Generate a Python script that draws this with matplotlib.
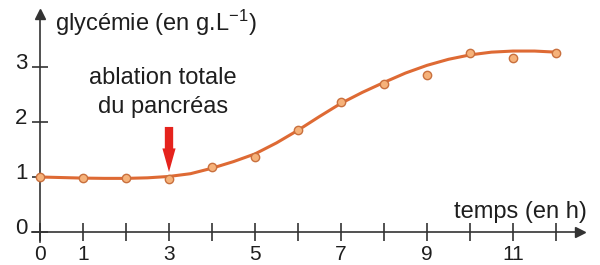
import numpy as np
import matplotlib
matplotlib.use("Agg")
import matplotlib.pyplot as plt
from matplotlib.transforms import ScaledTranslation

plt.rcParams["font.family"] = ["Liberation Sans", "DejaVu Sans"]
plt.rcParams["mathtext.fontset"] = "custom"
plt.rcParams["mathtext.rm"] = "Liberation Sans"
plt.rcParams["mathtext.default"] = "regular"

# measured points (hours, g/L)
hours = [0, 1, 2, 3, 4, 5, 6, 7, 8, 9, 10, 11, 12]
glycemia = [1.00, 0.98, 0.98, 0.96, 1.19, 1.36, 1.85, 2.36, 2.69, 2.85, 3.25, 3.16, 3.26]

# fitted curve every half hour
curve_t = [0, 0.5, 1, 1.5, 2, 2.5, 3, 3.5, 4, 4.5, 5, 5.5, 6, 6.5, 7, 7.5, 8,
           8.5, 9, 9.5, 10, 10.5, 11, 11.5, 12]
curve_g = [1.00, 0.99, 0.98, 0.975, 0.975, 0.985, 1.01, 1.06, 1.16, 1.28, 1.42,
           1.62, 1.85, 2.10, 2.34, 2.54, 2.72, 2.89, 3.03, 3.14, 3.22, 3.27,
           3.29, 3.29, 3.27]

xticks = list(range(13))
xlabels = ["0", "1", "", "3", "", "5", "", "7", "", "9", "", "11", ""]
yticks = [0, 1, 2, 3]

ablation_time = 3

axis_col = "#333333"
text_col = "#1e1e1e"

fig = plt.figure(figsize=(6, 2.65), dpi=100)
ax = fig.add_axes([32 / 600, 1 - 242 / 265, (580 - 32) / 600, (242 - 14) / 265])
ax.set_xlim((32 - 40) / 43, (580 - 40) / 43)
ax.set_ylim((232 - 242) / 55, (232 - 14) / 55)

for s in ["top", "right"]:
    ax.spines[s].set_visible(False)
ax.spines["left"].set_position(("data", 0))
ax.spines["bottom"].set_position(("data", 0))
for s in ["left", "bottom"]:
    ax.spines[s].set_color(axis_col)
    ax.spines[s].set_linewidth(1.2)

ax.plot(1, 0, ">", color=axis_col, markersize=7, transform=ax.get_yaxis_transform(), clip_on=False)
ax.plot(0, 1, "^", color=axis_col, markersize=7, transform=ax.get_xaxis_transform(), clip_on=False)

ax.set_xticks(xticks)
ax.set_xticklabels(xlabels)
ax.set_yticks(yticks)
ax.tick_params(axis="x", direction="inout", length=13, width=1.2, color=axis_col,
               labelsize=15, labelcolor=text_col, pad=2.5)
ax.tick_params(axis="y", direction="inout", length=12, width=1.2, color=axis_col,
               labelsize=16, labelcolor=text_col, pad=3)
for lab in ax.get_yticklabels():
    lab.set_transform(lab.get_transform() + ScaledTranslation(0, 6 / 100, fig.dpi_scale_trans))

ax.plot(curve_t, curve_g, color="#de6a34", linewidth=2.2, solid_capstyle="round", zorder=3)
ax.plot(hours, glycemia, "o", markersize=6, markerfacecolor="#f6b27a",
        markeredgecolor="#c9703e", markeredgewidth=1, zorder=4)

ax.annotate("", xy=(ablation_time, 1.09), xytext=(ablation_time, 1.91),
            arrowprops=dict(facecolor="#e5231d", edgecolor="none", width=6,
                            headwidth=9.5, headlength=17, shrink=0))

ax.text(2.86, 2.69, "ablation totale", ha="center", va="baseline", fontsize=17, color=text_col)
ax.text(2.86, 2.16, "du pancréas", ha="center", va="baseline", fontsize=17, color=text_col)

ax.text(0.35, 3.65, "glycémie (en g.L$^{-1}$)", ha="left", va="baseline", fontsize=17, color=text_col)
ax.text(12.72, 0.25, "temps (en h)", ha="right", va="baseline", fontsize=17, color=text_col)

fig.savefig("out.png", dpi=100)
